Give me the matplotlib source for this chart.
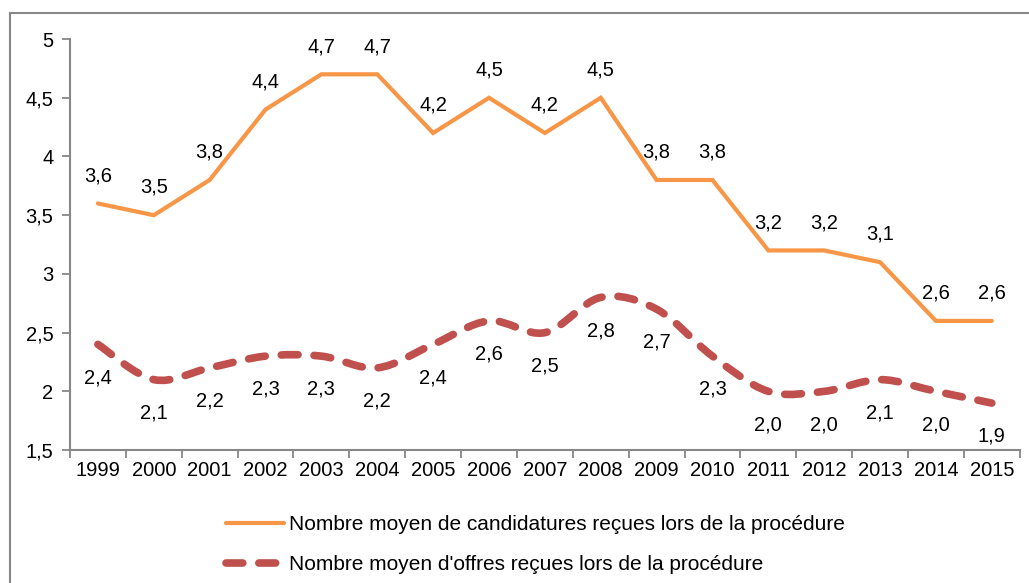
import numpy as np
import matplotlib.pyplot as plt
from matplotlib.path import Path
from matplotlib.patches import PathPatch, Rectangle
from matplotlib.lines import Line2D

plt.rcParams['font.family'] = ['Liberation Sans', 'DejaVu Sans']

years = [str(y) for y in range(1999, 2016)]
candidatures = [3.6, 3.5, 3.8, 4.4, 4.7, 4.7, 4.2, 4.5, 4.2, 4.5, 3.8, 3.8, 3.2, 3.2, 3.1, 2.6, 2.6]
offres = [2.4, 2.1, 2.2, 2.3, 2.3, 2.2, 2.4, 2.6, 2.5, 2.8, 2.7, 2.3, 2.0, 2.0, 2.1, 2.0, 1.9]
label_cand = "Nombre moyen de candidatures reçues lors de la procédure"
label_off = "Nombre moyen d'offres reçues lors de la procédure"

orange = '#F79646'
red = '#C0504D'
grey = '#878787'
fs = 14.5

fig = plt.figure(figsize=(10.29, 5.83), dpi=100)
ax = fig.add_axes([0.068, 0.228, 0.923, 0.705])

# frame around the chart (only left and top visible in the reference)
fig.patches.append(Rectangle((10 / 1029, -0.05), 1.1, 1 - 13 / 583 + 0.05,
                             transform=fig.transFigure, fill=False,
                             edgecolor=grey, linewidth=1.5))

x = np.arange(len(years))
ax.plot(x, candidatures, color=orange, linewidth=3, solid_capstyle='round',
        solid_joinstyle='miter')


def smooth_path(xs, ys):
    # Excel style smoothed line: cubic Bezier segments through each point
    xs = np.asarray(xs, float)
    ys = np.asarray(ys, float)
    verts = [(xs[0], ys[0])]
    codes = [Path.MOVETO]
    n = len(xs)
    for i in range(n - 1):
        p0 = (xs[max(i - 1, 0)], ys[max(i - 1, 0)])
        p1 = (xs[i], ys[i])
        p2 = (xs[i + 1], ys[i + 1])
        p3 = (xs[min(i + 2, n - 1)], ys[min(i + 2, n - 1)])
        c1 = (p1[0] + (p2[0] - p0[0]) / 6, p1[1] + (p2[1] - p0[1]) / 6)
        c2 = (p2[0] - (p3[0] - p1[0]) / 6, p2[1] - (p3[1] - p1[1]) / 6)
        verts += [c1, c2, p2]
        codes += [Path.CURVE4] * 3
    return Path(verts, codes)


dash_style = (0, (2.2, 2.1))
dash = PathPatch(smooth_path(x, offres), fill=False, edgecolor=red,
                 linewidth=5.5, linestyle=dash_style, capstyle='round')
ax.add_patch(dash)

for xi, v in zip(x, candidatures):
    ax.annotate(f"{v:.1f}".replace('.', ','), (xi, v), xytext=(0, 20),
                textcoords='offset points', ha='center', va='center', fontsize=fs)
for xi, v in zip(x, offres):
    ax.annotate(f"{v:.1f}".replace('.', ','), (xi, v), xytext=(0, -24),
                textcoords='offset points', ha='center', va='center', fontsize=fs)

ax.set_xlim(-0.5, len(years) - 0.5)
ax.set_ylim(1.5, 5)
yt = np.arange(1.5, 5.01, 0.5)
ax.set_yticks(yt)
ax.set_yticklabels([f"{t:g}".replace('.', ',') for t in yt])
ax.set_xticks(np.arange(-0.5, len(years), 1))
ax.set_xticklabels([])
ax.set_xticks(x, minor=True)
ax.set_xticklabels(years, minor=True)
ax.tick_params(axis='x', which='minor', length=0, pad=8, labelsize=fs)
ax.tick_params(axis='x', which='major', length=6, width=1.3, color=grey, direction='out')
ax.tick_params(axis='y', length=6, width=1.3, color=grey, direction='out', pad=6, labelsize=fs)

for s in ['top', 'right']:
    ax.spines[s].set_visible(False)
for s in ['left', 'bottom']:
    ax.spines[s].set_color(grey)
    ax.spines[s].set_linewidth(1.5)

handles = [Line2D([], [], color=orange, linewidth=3, solid_capstyle='round'),
           Line2D([], [], color=red, linewidth=5.5, linestyle=dash_style,
                  dash_capstyle='round')]
fig.legend(handles, [label_cand, label_off], loc='upper left',
           bbox_to_anchor=(218 / 1029, 1 - 507 / 583), frameon=False,
           fontsize=15, handlelength=2.75, handletextpad=0.25, labelspacing=1.0,
           borderaxespad=0)

fig.savefig('out.png', dpi=100)
